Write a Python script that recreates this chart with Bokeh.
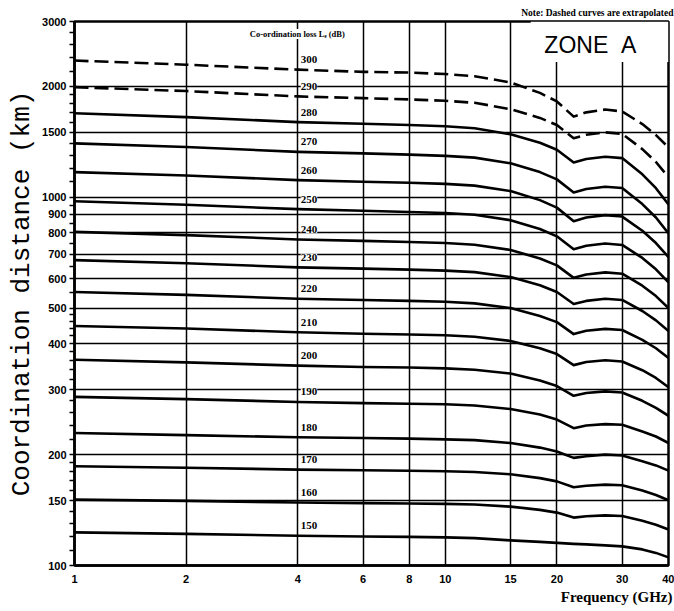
from bokeh.plotting import figure
from bokeh.models import (ColumnDataSource, FixedTicker, NumeralTickFormatter,
                          Label, LabelSet, BoxAnnotation, Title)
from bokeh.embed import file_html
from bokeh.resources import INLINE

# ---------------- data ----------------
freq_ghz = [1, 2, 4, 6, 8, 10, 12, 15, 18, 20, 22.2, 24, 27, 30, 34, 37, 40]

loss_db = [300, 290, 280, 270, 260, 250, 240, 230, 220, 210, 200, 190, 180, 170, 160, 150]
extrapolated_db = [300, 290]

dist_300 = [2350, 2290, 2220, 2190, 2180, 2160, 2130, 2050, 1920, 1820, 1655, 1700, 1730, 1710, 1580, 1475, 1365]
dist_290 = [1990, 1942, 1878, 1858, 1843, 1827, 1805, 1734, 1642, 1570, 1446, 1478, 1500, 1486, 1351, 1246, 1133]
dist_280 = [1690, 1650, 1599, 1583, 1570, 1558, 1539, 1482, 1406, 1346, 1243, 1270, 1288, 1277, 1154, 1058, 956]
dist_270 = [1400, 1369, 1328, 1315, 1305, 1295, 1281, 1236, 1170, 1118, 1030, 1053, 1068, 1059, 958, 881, 797]
dist_260 = [1170, 1145, 1113, 1102, 1095, 1087, 1075, 1039, 982, 937, 861, 881, 894, 886, 811, 751, 688]
dist_250 = [975, 954, 928, 919, 912, 906, 896, 866, 820, 783, 722, 738, 749, 742, 684, 637, 587]
dist_240 = [805, 789, 768, 761, 756, 751, 743, 719, 682, 653, 604, 617, 625, 620, 575, 539, 500]
dist_230 = [675, 662, 645, 640, 636, 632, 626, 607, 577, 553, 513, 523, 530, 526, 491, 463, 433]
dist_220 = [553, 543, 530, 526, 523, 520, 515, 500, 476, 458, 425, 434, 439, 436, 410, 389, 366]
dist_210 = [447, 440, 430, 426, 424, 422, 418, 407, 389, 375, 350, 357, 361, 358, 339, 323, 305]
dist_200 = [362, 356, 349, 346, 345, 343, 340, 332, 318, 307, 289, 294, 297, 295, 280, 268, 255]
dist_190 = [287, 283, 278, 276, 275, 274, 272, 266, 257, 249, 236, 240, 242, 241, 231, 224, 215]
dist_180 = [229, 226, 223, 222, 221, 220, 219, 215, 209, 204, 196, 198, 200, 199, 192, 187, 181]
dist_170 = [186, 184.3, 182.1, 181.4, 180.8, 180.3, 179.5, 176.9, 172.7, 169.2, 163.1, 164.7, 165.8, 165.1, 159.8, 155.4, 150.4]
dist_160 = [151, 149.8, 148.3, 147.7, 147.4, 147, 146.4, 144.5, 141.6, 139.2, 134.9, 136, 136.8, 136.3, 132.3, 129, 125.2]
dist_150 = [123, 121.9, 120.4, 119.9, 119.6, 119.2, 118.7, 117, 115.9, 115.2, 114.5, 114.1, 113.4, 112.7, 110.6, 108.2, 105.2]

curves = [dist_300, dist_290, dist_280, dist_270, dist_260, dist_250, dist_240, dist_230,
          dist_220, dist_210, dist_200, dist_190, dist_180, dist_170, dist_160, dist_150]

x_ticks = [1, 2, 4, 6, 8, 10, 15, 20, 30, 40]
y_ticks = [100, 150, 200, 300, 400, 500, 600, 700, 800, 900, 1000, 1500, 2000, 3000]
y_minor_ticks = [110, 120, 130, 140, 160, 170, 180, 190, 220, 240, 260, 280,
                 320, 340, 360, 380, 420, 440, 460, 480, 550, 650, 750, 850, 950,
                 1100, 1200, 1300, 1400, 1600, 1700, 1800, 1900, 2200, 2400, 2600, 2800]
label_freq = 4  # curve labels sit just right of the 4 GHz line

# ---------------- figure ----------------
p = figure(width=674, height=611, x_axis_type="log", y_axis_type="log",
           x_range=(1, 40), y_range=(100, 3000),
           output_backend="svg", toolbar_location=None,
           min_border_left=74, min_border_right=6, min_border_top=21, min_border_bottom=46)
p.background_fill_color = "white"
p.border_fill_color = "white"
p.outline_line_color = "black"
p.outline_line_width = 2.5

# note at top right
p.title.text = "Note: Dashed curves are extrapolated"
p.title.align = "right"
p.title.text_font = "Liberation Serif"
p.title.text_font_style = "bold"
p.title.text_font_size = "9.5px"
p.title.text_color = "black"
p.title.standoff = 7
p.title.offset = -5

p.xaxis.ticker = FixedTicker(ticks=x_ticks)
p.yaxis.ticker = FixedTicker(ticks=y_ticks, minor_ticks=y_minor_ticks)
p.xaxis.formatter = NumeralTickFormatter(format="0")
p.yaxis.formatter = NumeralTickFormatter(format="0")

for ax in (p.xaxis, p.yaxis):
    ax.axis_line_width = 2.5
    ax.axis_line_color = "black"
    ax.major_label_text_font = "Liberation Sans"
    ax.major_label_text_font_style = "bold"
    ax.major_label_text_font_size = "11px"
    ax.major_label_text_color = "black"

p.xaxis.major_tick_out = 0
p.xaxis.major_tick_in = 0
p.xaxis.minor_tick_out = 0
p.xaxis.minor_tick_in = 0
p.xaxis.major_label_standoff = 9

p.yaxis.major_tick_out = 5
p.yaxis.major_tick_in = 0
p.yaxis.minor_tick_out = 5
p.yaxis.minor_tick_in = 0
p.yaxis.major_tick_line_width = 1.5
p.yaxis.minor_tick_line_width = 1.5
p.yaxis.major_label_standoff = 3
p.yaxis.axis_label = "Coordination distance (km)"
p.yaxis.axis_label_text_font = "Liberation Mono"
p.yaxis.axis_label_text_font_style = "normal"
p.yaxis.axis_label_text_font_size = "26px"
p.yaxis.axis_label_text_color = "black"
p.yaxis.axis_label_standoff = 2

for g in (p.xgrid, p.ygrid):
    g.grid_line_color = "black"
    g.grid_line_width = 1.5
    g.grid_line_alpha = 1.0

# white area behind the ZONE A title (grid lines stop there)
p.add_layout(BoxAnnotation(left=17, right=40, bottom=2330, top=3000,
                           fill_color="white", fill_alpha=1.0, line_color=None,
                           level="underlay"))

# ---------------- curves ----------------
for loss, dist in zip(loss_db, curves):
    dash = "14 6" if loss in extrapolated_db else "solid"
    p.line(freq_ghz, dist, line_color="black", line_width=2.6, line_dash=dash,
           line_join="round", line_cap="butt")

# ---------------- curve labels ----------------
i4 = freq_ghz.index(label_freq)
lab_src = ColumnDataSource(dict(
    x=[label_freq] * len(loss_db),
    y=[d[i4] for d in curves],
    text=[str(v) for v in loss_db],
))
p.add_layout(LabelSet(x="x", y="y", text="text", source=lab_src,
                      x_offset=3, y_offset=10, text_baseline="middle", text_align="left",
                      text_font="Liberation Sans", text_font_style="bold",
                      text_font_size="11px", text_color="black",
                      background_fill_color="white", background_fill_alpha=1.0))

# ---------------- texts ----------------
p.add_layout(Label(x=2.97, y=2773, text="Co-ordination loss Lₑ (dB)",
                   text_align="left", text_baseline="middle",
                   text_font="Liberation Serif", text_font_style="bold",
                   text_font_size="8.5px", text_color="black",
                   background_fill_color="white", background_fill_alpha=1.0))

p.add_layout(Label(x=18.5, y=2588, text="ZONE\u00a0\u00a0A",
                   text_align="left", text_baseline="middle",
                   text_font="Liberation Sans", text_font_size="23px",
                   text_color="black"))

p.add_layout(Title(text="Frequency (GHz)", align="right",
                   text_font="Liberation Serif", text_font_style="bold",
                   text_font_size="15px", text_color="black",
                   standoff=3, offset=-4), "below")

open("out.html", "w").write(file_html(p, INLINE))
